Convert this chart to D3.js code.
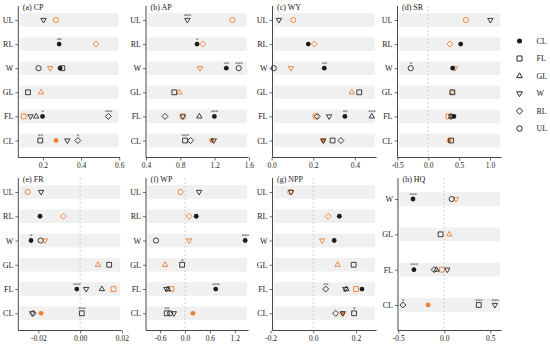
<!DOCTYPE html>
<html>
<head>
<meta charset="utf-8">
<script src="https://cdn.jsdelivr.net/npm/d3@7"></script>
<style>
body { margin: 0; background: #fff; }
svg { display: block; font-family: "Liberation Serif", "Times New Roman", serif; }
</style>
</head>
<body>
<div id="chart"></div>
<script>
//--------------------------------------------------------
// data : [row, shape, value, stars]
//--------------------------------------------------------
const shapes = ["CL", "FL", "GL", "W", "RL", "UL"];
const rowsMain = ["UL", "RL", "W", "GL", "FL", "CL"];
const rowsHQ = ["W", "GL", "FL", "CL"];

const cp = [
    ["UL", "W", 0.203, ""], ["UL", "UL", 0.268, ""],
    ["RL", "CL", 0.285, "**"], ["RL", "RL", 0.478, ""],
    ["W", "UL", 0.177, ""], ["W", "W", 0.238, ""], ["W", "CL", 0.29, ""], ["W", "FL", 0.302, ""],
    ["GL", "FL", 0.122, ""], ["GL", "GL", 0.191, ""],
    ["FL", "FL", 0.099, ""], ["FL", "W", 0.135, ""], ["FL", "GL", 0.165, ""], ["FL", "CL", 0.198, "*"], ["FL", "RL", 0.543, "***"],
    ["CL", "FL", 0.186, "**"], ["CL", "CL", 0.269, ""], ["CL", "W", 0.328, ""], ["CL", "RL", 0.383, "*"]
];
const ap = [
    ["UL", "W", 0.882, "***"], ["UL", "UL", 1.407, ""],
    ["RL", "CL", 0.995, "*"], ["RL", "RL", 1.061, ""],
    ["W", "W", 1.03, ""], ["W", "CL", 1.336, "**"], ["W", "UL", 1.481, "***"],
    ["GL", "FL", 0.73, ""], ["GL", "GL", 0.789, ""],
    ["FL", "RL", 0.622, ""], ["FL", "FL", 0.828, ""], ["FL", "W", 0.83, ""], ["FL", "GL", 1.022, ""], ["FL", "CL", 1.197, "***"],
    ["CL", "FL", 0.855, "***"], ["CL", "RL", 0.92, ""], ["CL", "CL", 1.166, ""], ["CL", "W", 1.19, ""]
];
const wy = [
    ["UL", "W", 0.035, ""], ["UL", "UL", 0.104, ""],
    ["RL", "CL", 0.176, ""], ["RL", "RL", 0.205, ""],
    ["W", "UL", 0.01, ""], ["W", "W", 0.093, ""], ["W", "CL", 0.253, "**"],
    ["GL", "GL", 0.385, ""], ["GL", "FL", 0.421, ""],
    ["FL", "FL", 0.211, ""], ["FL", "RL", 0.219, ""], ["FL", "W", 0.276, ""], ["FL", "CL", 0.352, "**"], ["FL", "GL", 0.481, "***"],
    ["CL", "CL", 0.248, ""], ["CL", "W", 0.248, ""], ["CL", "FL", 0.293, ""], ["CL", "RL", 0.333, ""]
];
const sr = [
    ["UL", "UL", 0.61, ""], ["UL", "W", 1.005, ""],
    ["RL", "RL", 0.35, ""], ["RL", "CL", 0.525, ""],
    ["W", "UL", -0.285, "*"], ["W", "W", 0.43, ""], ["W", "CL", 0.395, ""],
    ["GL", "FL", 0.39, ""], ["GL", "GL", 0.39, ""],
    ["FL", "FL", 0.325, ""], ["FL", "W", 0.37, ""], ["FL", "GL", 0.37, ""], ["FL", "CL", 0.415, ""],
    ["CL", "CL", 0.34, ""], ["CL", "FL", 0.37, ""]
];
const fr = [
    ["UL", "UL", -0.0251, ""], ["UL", "W", -0.0187, ""],
    ["RL", "CL", -0.0192, ""], ["RL", "RL", -0.008, ""],
    ["W", "CL", -0.0235, "*"], ["W", "UL", -0.0189, ""], ["W", "W", -0.0168, ""],
    ["GL", "GL", 0.0085, ""], ["GL", "FL", 0.0139, ""],
    ["FL", "CL", -0.0016, "***"], ["FL", "W", 0.0029, ""], ["FL", "GL", 0.0104, ""], ["FL", "FL", 0.016, ""],
    ["CL", "W", -0.0229, ""], ["CL", "RL", -0.0225, ""], ["CL", "CL", -0.0187, ""], ["CL", "FL", 0.0008, "***"]
];
const wp = [
    ["UL", "UL", -0.11, ""], ["UL", "W", 0.34, ""],
    ["RL", "RL", 0.1, ""], ["RL", "CL", 0.27, ""],
    ["W", "UL", -0.7, ""], ["W", "W", 0.1, ""], ["W", "CL", 1.45, "***"],
    ["GL", "GL", -0.48, ""], ["GL", "FL", -0.07, "*"],
    ["FL", "W", -0.45, ""], ["FL", "GL", -0.41, ""], ["FL", "FL", -0.33, ""], ["FL", "CL", 0.74, "***"],
    ["CL", "FL", -0.44, "**"], ["CL", "UL", -0.36, ""], ["CL", "W", -0.27, ""], ["CL", "CL", 0.19, ""]
];
const npp = [
    ["UL", "UL", -0.108, ""], ["UL", "W", -0.104, ""],
    ["RL", "RL", 0.07, ""], ["RL", "CL", 0.122, ""],
    ["W", "W", 0.042, ""], ["W", "CL", 0.098, ""],
    ["GL", "GL", 0.114, ""], ["GL", "FL", 0.189, ""],
    ["FL", "RL", 0.058, "**"], ["FL", "W", 0.15, ""], ["FL", "GL", 0.155, ""], ["FL", "FL", 0.2, ""], ["FL", "CL", 0.228, ""],
    ["CL", "RL", 0.105, ""], ["CL", "CL", 0.138, ""], ["CL", "W", 0.138, ""], ["CL", "FL", 0.191, "*"]
];
const hq = [
    ["W", "CL", -0.34, "***"], ["W", "UL", 0.08, ""], ["W", "W", 0.127, ""],
    ["GL", "FL", -0.04, ""], ["GL", "GL", 0.054, ""],
    ["FL", "CL", -0.33, "***"], ["FL", "RL", -0.11, ""], ["FL", "GL", -0.085, ""], ["FL", "FL", -0.025, ""], ["FL", "W", 0.033, ""],
    ["CL", "RL", -0.45, "*"], ["CL", "CL", -0.175, ""], ["CL", "FL", 0.375, "***"], ["CL", "W", 0.55, "***"]
];

// tick values and labels
const cpTicks = [0.2, 0.4, 0.6],          cpLabels = ["0.2", "0.4", "0.6"];
const apTicks = [0.4, 0.8, 1.2, 1.6],     apLabels = ["0.4", "0.8", "1.2", "1.6"];
const wyTicks = [0, 0.2, 0.4],            wyLabels = ["0.0", "0.2", "0.4"];
const srTicks = [-0.5, 0, 0.5, 1.0],      srLabels = ["-0.5", "0.0", "0.5", "1.0"];
const frTicks = [-0.02, 0, 0.02],         frLabels = ["-0.02", "0.00", "0.02"];
const wpTicks = [-0.6, 0, 0.6, 1.2],      wpLabels = ["-0.6", "0.0", "0.6", "1.2"];
const nppTicks = [-0.2, 0, 0.2],          nppLabels = ["-0.2", "0.0", "0.2"];
const hqTicks = [-0.5, 0, 0.5],           hqLabels = ["-0.5", "0.0", "0.5"];

//--------------------------------------------------------
// layout
//--------------------------------------------------------
const color = {
    orange: "#ef7f34",
    black: "#1c1c1c",
    band: "#f0f0f0",
    axis: "#333333",
    text: "#222222",
    zero: "#c8c8c8"
};

const topRow = { top: 6, bottom: 157.5, rows: [20, 140.5] };
const botRow = { top: 178, bottom: 330.5, rows: [192, 313.3] };
const hqRow = { top: 178, bottom: 330.5, rows: [199, 305] };

const panels = [
    { title: "(a) CP", data: cp, rows: rowsMain, row: topRow, x0: 18.3, x1: 120, domain: [0.071, 0.604], ticks: cpTicks, labels: cpLabels, zero: false },
    { title: "(b) AP", data: ap, rows: rowsMain, row: topRow, x0: 146, x1: 248.5, domain: [0.4, 1.595], ticks: apTicks, labels: apLabels, zero: false },
    { title: "(c) WY", data: wy, rows: rowsMain, row: topRow, x0: 272.5, x1: 376.5, domain: [0.004, 0.504], ticks: wyTicks, labels: wyLabels, zero: false },
    { title: "(d) SR", data: sr, rows: rowsMain, row: topRow, x0: 397.5, x1: 501.5, domain: [-0.499, 1.186], ticks: srTicks, labels: srLabels, zero: true },
    { title: "(e) FR", data: fr, rows: rowsMain, row: botRow, x0: 18.3, x1: 121.7, domain: [-0.0296, 0.0199], ticks: frTicks, labels: frLabels, zero: true },
    { title: "(f) WP", data: wp, rows: rowsMain, row: botRow, x0: 146, x1: 248.5, domain: [-0.94, 1.53], ticks: wpTicks, labels: wpLabels, zero: true },
    { title: "(g) NPP", data: npp, rows: rowsMain, row: botRow, x0: 272.5, x1: 376.5, domain: [-0.191, 0.296], ticks: nppTicks, labels: nppLabels, zero: true },
    { title: "(h) HQ", data: hq, rows: rowsHQ, row: hqRow, x0: 398, x1: 501.5, domain: [-0.503, 0.622], ticks: hqTicks, labels: hqLabels, zero: true }
];

// marker paths (ggplot shapes 16, 0, 2, 6, 5, 1)
function shapePath(s, k = 1) {
    if (s === "CL") { const r = 2.4 * k; return `M${r},0A${r},${r} 0 1,1 ${-r},0A${r},${r} 0 1,1 ${r},0Z`; }
    if (s === "UL") { const r = 2.6 * k; return `M${r},0A${r},${r} 0 1,1 ${-r},0A${r},${r} 0 1,1 ${r},0Z`; }
    if (s === "FL") { const h = 2.4 * k; return `M${-h},${-h}H${h}V${h}H${-h}Z`; }
    if (s === "GL") return `M0,${-3 * k}L${2.7 * k},${1.6 * k}L${-2.7 * k},${1.6 * k}Z`;
    if (s === "W") return `M0,${3 * k}L${2.7 * k},${-1.6 * k}L${-2.7 * k},${-1.6 * k}Z`;
    if (s === "RL") { const d = 3 * k; return `M0,${-d}L${d},0L0,${d}L${-d},0Z`; }
}

//add svg
const svg = d3.select("#chart")
    .append("svg")
    .attr("width", 550)
    .attr("height", 347);

panels.forEach(p => {
    const g = svg.append("g");
    const x = d3.scaleLinear().domain(p.domain).range([p.x0, p.x1]);
    const y = d3.scalePoint().domain(p.rows).range(p.row.rows);

    // grey bands
    g.selectAll("rect.band")
        .data(p.rows)
        .enter()
        .append("rect")
        .attr("class", "band")
        .attr("x", p.x0 + 1.5)
        .attr("width", p.x1 - p.x0 - 3)
        .attr("y", d => y(d) - 6.8)
        .attr("height", 13.6)
        .attr("fill", color.band);

    // zero reference line
    if (p.zero) {
        g.append("line")
            .attr("x1", x(0)).attr("x2", x(0))
            .attr("y1", p.row.top).attr("y2", p.row.bottom)
            .attr("stroke", color.zero)
            .attr("stroke-width", 0.8)
            .attr("stroke-dasharray", "2,2");
    }

    // x axis
    const xAxis = g.append("g")
        .attr("transform", `translate(0,${p.row.bottom})`)
        .call(d3.axisBottom(x).tickValues(p.ticks).tickFormat((d, i) => p.labels[i]).tickSize(3).tickSizeOuter(0).tickPadding(2));
    xAxis.select(".domain").remove();
    g.append("line")
        .attr("x1", p.x0).attr("x2", p.x1)
        .attr("y1", p.row.bottom).attr("y2", p.row.bottom)
        .attr("stroke", color.axis).attr("stroke-width", 0.9);

    // y axis
    const yAxis = g.append("g")
        .attr("transform", `translate(${p.x0},0)`)
        .call(d3.axisLeft(y).tickSize(3).tickSizeOuter(0).tickPadding(2));
    yAxis.select(".domain").remove();
    g.append("line")
        .attr("x1", p.x0).attr("x2", p.x0)
        .attr("y1", p.row.top).attr("y2", p.row.bottom)
        .attr("stroke", color.axis).attr("stroke-width", 0.9);

    [xAxis, yAxis].forEach(a => {
        a.selectAll("line").attr("stroke", color.axis).attr("stroke-width", 0.7);
        a.selectAll("text").attr("fill", color.text).style("font-family", "Liberation Serif, serif");
    });
    xAxis.selectAll("text").attr("font-size", 7.5);
    yAxis.selectAll("text").attr("font-size", 8);

    // title
    g.append("text")
        .attr("x", p.x0 + 4.5)
        .attr("y", p.row.top + 4)
        .attr("font-size", 8)
        .attr("fill", color.text)
        .text(p.title);

    // points: own (orange) first, then the others
    const pts = p.data.slice().sort((a, b) => (b[0] === b[1]) - (a[0] === a[1]));
    g.selectAll("path.pt")
        .data(pts)
        .enter()
        .append("path")
        .attr("class", "pt")
        .attr("d", d => shapePath(d[1]))
        .attr("transform", d => `translate(${x(d[2])},${y(d[0])})`)
        .attr("fill", d => d[1] === "CL" ? (d[0] === d[1] ? color.orange : color.black) : "none")
        .attr("stroke", d => d[1] === "CL" ? "none" : (d[0] === d[1] ? color.orange : "#2a2a2a"))
        .attr("stroke-width", 0.9);

    // significance stars
    g.selectAll("text.star")
        .data(p.data.filter(d => d[3] !== ""))
        .enter()
        .append("text")
        .attr("class", "star")
        .attr("x", d => x(d[2]))
        .attr("y", d => y(d[0]) - 2.2)
        .attr("text-anchor", "middle")
        .attr("font-size", 5.5)
        .attr("letter-spacing", -0.3)
        .attr("fill", "#444")
        .text(d => d[3]);
});

// legend
const legend = svg.append("g")
    .attr("id", "legend");
const ly = d3.scalePoint().domain(shapes).range([41, 128.5]);
legend.selectAll("path")
    .data(shapes)
    .enter()
    .append("path")
    .attr("d", d => shapePath(d, 1.05))
    .attr("transform", d => `translate(519.5,${ly(d)})`)
    .attr("fill", d => d === "CL" ? color.black : "none")
    .attr("stroke", d => d === "CL" ? "none" : "#2a2a2a")
    .attr("stroke-width", 1);
legend.selectAll("text")
    .data(shapes)
    .enter()
    .append("text")
    .attr("x", 536.5)
    .attr("y", d => ly(d) + 2.8)
    .attr("font-size", 8)
    .attr("fill", color.text)
    .text(d => d);
</script>
</body>
</html>
